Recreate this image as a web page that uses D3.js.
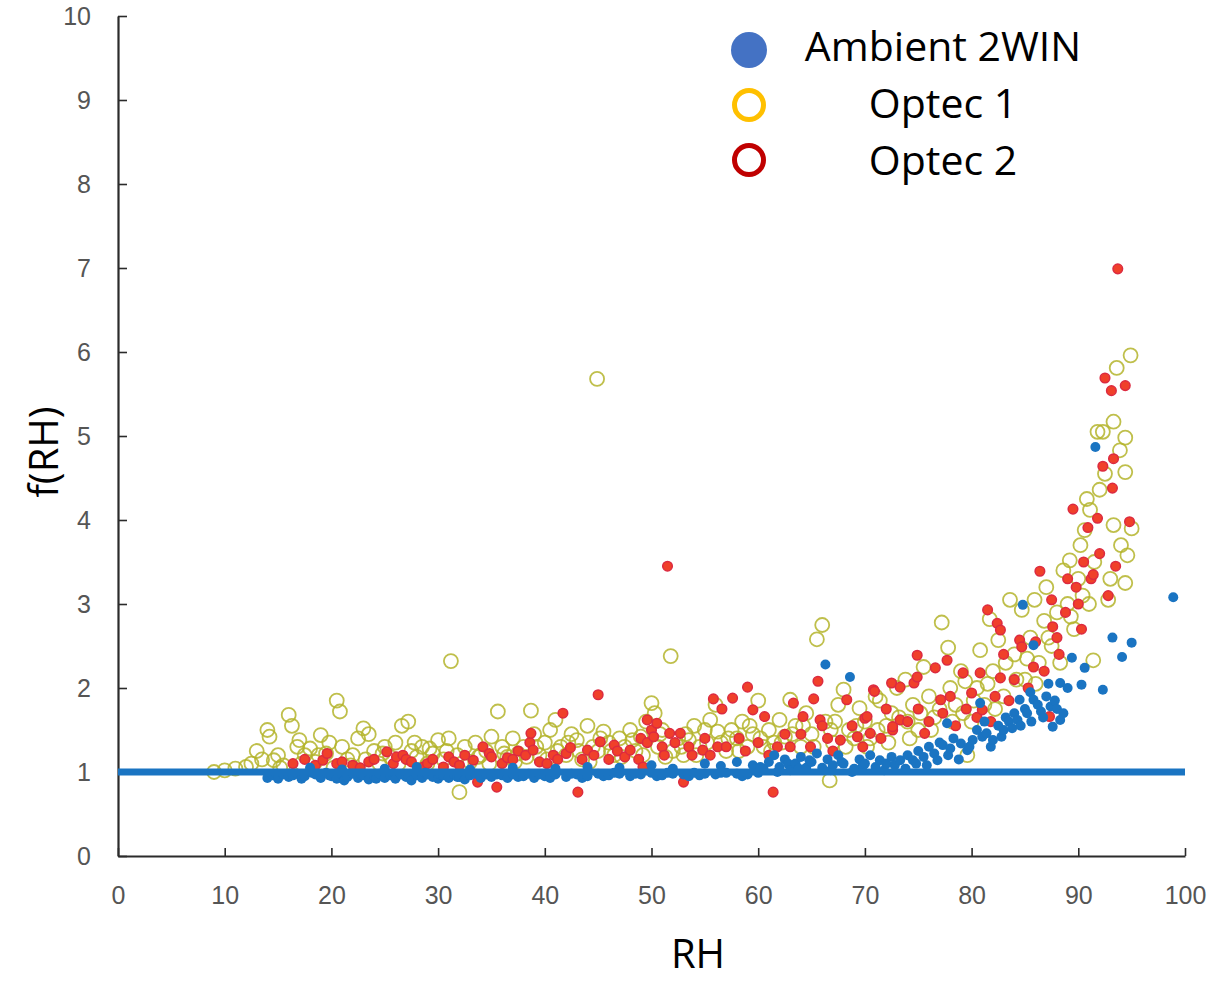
<!DOCTYPE html>
<html>
<head>
<meta charset="utf-8">
<script src="https://cdn.jsdelivr.net/npm/d3@7"></script>
<style>
  body { margin: 0; background: #fff; overflow: hidden; }
  .tick text { fill: #555; font-family: "Liberation Sans", Arial, sans-serif; }
  .title { font-family: "Open Sans", sans-serif; fill: #000; }
</style>
</head>
<body>
<div id="chart"></div>
<script>
// Optec 1 (yellow open circles), [RH, f(RH)]
var optec1 = [
  [9,1.0],[10,1.02],[11,1.04],[12,1.06],[12.5,1.1],[13,1.25],[13.5,1.15],
  [14,1.5],[14.2,1.42],[14.6,1.14],[15,1.2],[15.2,1.05],[15.5,1.08],[16,1.68],[16.3,1.55],[16.8,1.3],[17,1.38],[17.2,1.1],[17.5,1.2],[18,1.28],[18.5,1.12],[18.8,1.2],[19,1.44],[19.5,1.22],[19.8,1.35],[20.2,1.05],
  [20.5,1.85],[20.8,1.72],[21,1.3],[21.5,1.15],[21.8,1.08],[22,1.2],[22.5,1.4],[23,1.52],[23.2,1.15],[23.5,1.45],[24,1.25],[24.5,1.1],[24.8,1.22],[25,1.3],[25.5,1.18],[26,1.35],[26.3,1.1],[26.6,1.55],[27.2,1.6],[27.5,1.25],[27.8,1.35],[28,1.18],[28.5,1.3],[29,1.1],[29.2,1.28],[29.5,1.22],[30,1.38],[30.5,1.15],[30.8,1.25],
  [31,1.4],[31.2,2.32],[31.8,1.2],[32,0.76],[32.2,1.1],[32.5,1.3],[33,1.12],[33.5,1.35],[33.8,1.18],[34,1.2],[34.5,1.25],[34.8,1.1],[35,1.42],[35.6,1.72],[36,1.3],[36.2,1.22],[36.5,1.18],[37,1.4],[37.2,1.12],[37.5,1.22],[38,1.3],[38.3,1.18],[38.7,1.73],[39,1.45],[39.2,1.3],[39.5,1.2],[40,1.35],[40.2,1.15],
  [40.5,1.5],[41,1.62],[41.2,1.25],[41.5,1.3],[42,1.2],[42.2,1.35],[42.5,1.45],[43,1.38],[43.2,1.25],[43.5,1.15],[44,1.55],[44.2,1.12],[44.5,1.3],[44.9,5.68],[45,1.25],[45.2,1.4],[45.5,1.48],[46,1.35],[46.2,1.25],[46.5,1.2],[47,1.4],[47.2,1.18],[47.5,1.3],[48,1.5],[48.2,1.38],[48.5,1.25],[49,1.42],[49.2,1.2],[49.5,1.6],[50,1.82],[50.3,1.7],[50.6,1.3],[50.8,1.45],
  [51,1.5],[51.3,1.18],[51.8,2.38],[52,1.25],[52.5,1.4],[52.8,1.3],[53,1.2],[53.2,1.45],[53.5,1.38],[54,1.55],[54.2,1.2],[54.5,1.3],[55,1.5],[55.2,1.35],[55.5,1.62],[56,1.8],[56.2,1.48],[56.5,1.35],[57,1.25],[57.2,1.4],[57.5,1.5],[58,1.4],[58.2,1.25],[58.5,1.6],[59,1.3],[59.2,1.55],[59.5,1.45],[60,1.85],[60.2,1.4],[60.5,1.3],
  [61,1.5],[61.2,1.25],[61.5,1.35],[62,1.62],[62.2,1.35],[62.5,1.42],[63,1.86],[63.2,1.45],[63.5,1.55],[64,1.3],[64.2,1.55],[64.5,1.7],[65,1.45],[65.2,1.3],[65.5,2.58],[66,2.75],[66.3,1.6],[66.7,0.9],[66.8,1.5],[67,1.35],[67.2,1.6],[67.5,1.8],[68,1.98],[68.2,1.3],[68.5,1.5],[69,1.4],[69.2,1.55],[69.5,1.76],[70,1.6],[70.2,1.3],
  [70.5,1.4],[71,1.9],[71.2,1.5],[71.4,1.85],[72,1.55],[72.2,1.35],[72.5,1.7],[73,2.0],[73.2,1.65],[73.8,2.1],[74,1.6],[74.2,1.4],[74.5,1.8],[75,1.5],[75.2,1.7],[75.5,2.25],[76,1.9],[76.2,1.5],[76.5,1.65],[77,1.75],[77.2,2.78],[77.8,2.48],[78,2.0],[78.2,1.6],[78.5,1.8],[79,2.2],[79.2,1.7],[79.4,2.08],[79.6,1.2],[80,1.6],
  [80.2,1.85],[80.5,2.0],[80.8,2.45],[81.2,1.8],[81.5,2.05],[81.7,2.82],[82,2.2],[82.2,1.75],[82.5,2.57],[83,1.9],[83.2,2.3],[83.6,3.05],[84,2.4],[84.2,2.1],[84.7,2.93],[85,2.1],[85.2,2.35],[85.5,2.6],[85.9,3.05],[86,2.05],[86.3,2.3],[86.8,2.8],[87,3.2],[87.2,2.6],[87.5,2.5],[88,2.9],[88.3,2.3],[88.6,3.4],[89,3.0],[89.2,3.52],[89.3,2.85],[89.6,2.7],[90,3.3],
  [90.2,3.7],[90.4,3.1],[90.6,3.88],[90.8,4.25],[91,3.0],[91.1,4.12],[91.4,2.33],[91.5,3.5],[91.8,5.05],[92,4.36],[92.3,5.05],[92.5,4.55],[92.8,3.05],[93,3.3],[93.3,3.94],[93.3,5.17],[93.6,5.81],[93.9,4.83],[94,3.7],[94.4,4.98],[94.4,4.57],[94.4,3.25],[94.6,3.58],[94.9,5.96],[95,3.9]
];

// Optec 2 (red circles)
var optec2 = [
  [16.4,1.1],[17.5,1.15],[18.5,1.08],[19.2,1.14],[19.6,1.22],[20.5,1.1],[21,1.12],[22,1.08],[22.7,1.05],[23.5,1.12],[24,1.15],[25.2,1.24],[25.8,1.1],[26.1,1.18],[26.7,1.2],[27,1.15],[27.5,1.12],[28.6,1.06],[29,1.1],[29.5,1.15],[30.5,1.06],
  [31,1.18],[31.5,1.12],[32,1.08],[32.5,1.2],[33.3,1.14],[33.7,0.88],[34.2,1.3],[34.8,1.22],[35,1.18],[35.5,0.82],[36,1.1],[36.5,1.17],[37,1.15],[37.5,1.25],[38.2,1.2],[38.6,1.35],[38.7,1.46],[38.9,1.26],[39.5,1.12],[40.2,1.1],[40.8,1.2],[41.2,1.15],[41.7,1.7],[42,1.22],[42.4,1.29],[43.1,0.76],[43.5,1.15],[44,1.26],[44.6,1.2],[45,1.92],[45.2,1.36],[46,1.15],[46.5,1.32],[46.8,1.25],[47.5,1.18],[48,1.26],[48.8,1.15],[49,1.4],[49.2,1.06],[49.6,1.62],[49.6,1.35],[50,1.5],[50.2,1.42],[50.5,1.58],
  [51,1.3],[51.2,1.2],[51.5,3.45],[51.7,1.46],[52.2,1.35],[52.7,1.46],[53,0.88],[53.5,1.3],[53.8,1.2],[54.8,1.26],[55,1.4],[55.5,1.2],[55.8,1.87],[56.2,1.3],[56.6,1.75],[57,1.3],[57.6,1.88],[58.2,1.4],[58.8,1.25],[59,2.01],[59.5,1.74],[60,1.35],[60.6,1.66],[61,1.2],[61.4,0.76],[61.8,1.3],[62.5,1.45],[63,1.3],[63.3,1.82],[64,1.45],[64.2,1.66],[64.9,1.3],[65.2,1.87],[65.6,2.08],[65.8,1.62],[66,1.55],[66.5,1.4],[67,1.25],[67.7,1.38],[68.3,1.86],[68.8,1.55],[69.3,1.42],[69.8,1.3],[70,1.64],
  [70.2,1.66],[70.5,1.46],[70.8,1.98],[70.9,1.96],[71.5,1.4],[72,1.75],[72.5,2.06],[72.6,1.5],[72.6,1.54],[73.3,2.01],[73.3,1.62],[74,1.6],[74.6,2.06],[74.9,2.39],[74.9,2.13],[75,1.75],[75.6,1.46],[76,1.6],[76.6,2.24],[77.1,1.86],[77.3,1.7],[77.7,2.33],[78,1.9],[78.5,1.55],[79.2,2.18],[79.5,1.75],[80,1.94],[80.5,1.65],[80.8,2.18],[81,1.74],[81.5,2.93],[81.8,1.6],[82.2,1.9],[82.4,2.77],[82.7,2.69],[82.7,2.12],[83,2.4],[83.5,1.85],[84,2.1],[84.5,2.57],[84.7,2.49],
  [85.3,2.0],[85.8,2.25],[86,2.55],[86.4,3.39],[86.8,2.2],[87.3,1.66],[87.5,3.05],[87.6,2.73],[88,2.6],[88.2,2.4],[88.8,2.9],[89,3.3],[89.5,4.13],[89.8,3.2],[90,3.0],[90.3,2.7],[90.5,3.5],[90.9,3.91],[91.2,3.3],[91.4,3.35],[91.8,4.02],[92,3.6],[92.3,4.64],[92.5,5.69],[92.8,3.1],[93.1,5.54],[93.2,4.38],[93.3,4.73],[93.5,3.45],[93.7,6.99],[94.4,5.6],[94.8,3.98]
];

// Ambient 2WIN (blue filled dots)
var ambient = [
  [14,0.93],[14.5,0.96],[14.8,0.98],[15,0.92],[15.5,0.97],[16,0.94],[16.4,0.96],[16.8,0.98],[17.2,0.92],[17.5,0.95],[18.2,0.99],[18.5,0.97],[19,0.93],[19.5,0.99],[19.8,0.96],[20,0.95],[20.5,0.92],[21,0.97],[21.2,0.9],[21.5,0.94],[22,0.98],[22.5,0.93],[22.8,0.97],[23,0.96],[23.5,0.91],[24,0.95],[24.2,0.92],[24.5,0.98],[25,0.93],[25.5,0.96],[25.8,0.98],[26,0.92],[26.5,0.97],[27,0.94],[27.2,0.95],[27.5,0.9],[28,0.96],[28.5,0.93],[28.8,0.99],[29,0.97],[29.5,0.94],[30,0.92],[30.2,0.97],[30.5,0.96],[31,0.93],[31.5,0.97],[31.8,0.94],[32,0.94],[32.5,0.91],[33,0.96],[33.5,0.98],[34,0.93],[34.5,0.97],[35,0.94],[35.5,0.97],[36,0.96],[36.5,0.93],[37,0.97],[37.5,0.94],[38,0.95],[38.5,0.98],[39,0.93],[39.5,0.97],[40,0.95],[40.5,0.93],[41,0.97],[42,0.94],[42.5,0.98],[43,0.97],[43.5,0.93],[44,0.95],[45,0.98],[45.5,0.95],[46,0.96],[46.5,0.99],[47,0.98],[48,0.95],[48.5,0.98],[49,0.97],[50,0.99],[50.5,0.95],[51,0.96],[51.5,0.99],[52,0.98],[53,0.97],[53.5,0.95],[54,0.99],[54.5,0.96],[55,0.98],[56,0.97],[56.5,0.99],[57,0.99],[58,0.98],[58.5,0.95],[59,0.97],[60,0.99],
  [18,1.05],[21,1.03],[25,1.04],[28,1.06],[33,1.03],[37,1.05],[41,1.04],[44,1.06],[47,1.05],[50,1.08],[52,1.04],[55,1.1],[56.5,1.07],[58,1.12],[59.5,1.08],
  [60.2,1.06],[60.5,1.04],[61,1.12],[61.5,1.2],[61.8,1.0],[62,1.06],[62.5,1.15],[62.8,1.1],[63,1.02],[63.5,1.1],[63.8,1.04],[64,1.18],[64.5,1.05],[64.8,1.14],[65,1.12],[65.5,1.22],[66,1.05],[66.3,2.28],[66.5,1.15],[66.8,1.02],[67,1.08],[67.5,1.2],[67.8,1.12],[68,1.1],[68.6,2.13],[68.8,1.0],[69,1.04],[69.5,1.15],[69.8,1.07],[70,1.1],[70.5,1.2],[71,1.06],[71.4,1.14],[71.8,1.02],[72,1.1],[72.5,1.18],[72.8,1.08],
  [73.3,1.14],[73.8,1.04],[74,1.2],[74.5,1.14],[74.8,1.1],[75,1.25],[75.5,1.18],[75.8,1.08],[76,1.3],[76.5,1.22],[76.8,1.14],[77,1.35],[77.3,1.32],[77.7,1.58],[77.8,1.2],[78,1.28],[78.3,1.4],[78.8,1.15],[79,1.34],[79.6,1.26],[79.8,1.3],[80.1,1.38],[80.5,1.5],[80.8,1.82],[81,1.42],[81.2,1.6],[81.4,1.46],[81.8,1.3],[82,1.38],[82.5,1.55],[82.8,1.42],[83,1.5],[83.2,1.65],[83.5,1.6],[83.8,1.52],[84,1.7],[84.3,1.62],[84.5,1.86],[84.6,1.55],[84.8,2.99],[85,1.75],[85.2,1.7],[85.5,1.95],[85.6,1.6],[85.8,1.86],[85.8,2.51],[86.2,1.8],[86.5,1.72],[86.7,1.65],[87,1.9],[87.2,2.05],[87.4,1.78],[87.6,1.54],[87.8,1.85],[88,1.75],[88.3,1.62],[88.3,2.06],[88.6,1.7],
  [89,2.0],[89.4,2.36],[90.3,2.04],[90.6,2.24],[91.6,4.87],[92.3,1.98],[93.2,2.6],[94.1,2.37],[95,2.54],[98.9,3.08]
];

var xTicks = [0,10,20,30,40,50,60,70,80,90,100];
var yTicks = [0,1,2,3,4,5,6,7,8,9,10];
var legendNames = ["Ambient 2WIN", "Optec 1", "Optec 2"];

var width = 1217, height = 984;
var svg = d3.select("#chart").append("svg")
    .attr("width", width)
    .attr("height", height)
    .style("display", "block");

var x = d3.scaleLinear().domain([0, 100]).range([118, 1185]);
var y = d3.scaleLinear().domain([0, 10]).range([856, 16]);

// axes, ticks pointing inward
var xAxis = svg.append("g")
    .attr("transform", "translate(0," + y(0) + ")")
    .call(d3.axisBottom(x).tickValues(xTicks).tickSizeInner(-8).tickSizeOuter(0).tickPadding(30));
var yAxis = svg.append("g")
    .attr("transform", "translate(" + x(0) + ",0)")
    .call(d3.axisLeft(y).tickValues(yTicks).tickSizeInner(-9).tickSizeOuter(0).tickPadding(27));

[xAxis, yAxis].forEach(function(a) {
  a.select(".domain").attr("stroke", "#2b2b2b").attr("stroke-width", 2.2);
  a.selectAll(".tick line").attr("stroke", "#2b2b2b").attr("stroke-width", 1.6);
  a.selectAll(".tick text").style("font-size", "25px");
});

// Optec 1
svg.append("g").selectAll("circle")
    .data(optec1)
    .enter().append("circle")
    .attr("cx", d => x(d[0]))
    .attr("cy", d => y(d[1]))
    .attr("r", 7)
    .attr("fill", "none")
    .attr("stroke", "#b4b42c")
    .attr("stroke-opacity", 0.85)
    .attr("stroke-width", 1.8);

// Optec 2
svg.append("g").selectAll("circle")
    .data(optec2)
    .enter().append("circle")
    .attr("cx", d => x(d[0]))
    .attr("cy", d => y(d[1]))
    .attr("r", 4.8)
    .attr("fill", "#f0402a")
    .attr("stroke", "#dc2a40")
    .attr("stroke-width", 1.5);

// Ambient 2WIN
svg.append("g").selectAll("circle")
    .data(ambient)
    .enter().append("circle")
    .attr("cx", d => x(d[0]))
    .attr("cy", d => y(d[1]))
    .attr("r", 5)
    .attr("fill", "#1a74c2");

// f(RH) = 1 line
svg.append("line")
    .attr("x1", x(0)).attr("x2", x(100))
    .attr("y1", y(1)).attr("y2", y(1))
    .attr("stroke", "#1a74c2")
    .attr("stroke-width", 7);

// axis titles
svg.append("text")
    .attr("class", "title")
    .attr("transform", "translate(58,452)rotate(-90)")
    .attr("text-anchor", "middle")
    .style("font-size", "40px")
    .text("f(RH)");
svg.append("text")
    .attr("class", "title")
    .attr("x", 698).attr("y", 968)
    .attr("text-anchor", "middle")
    .style("font-size", "40px")
    .text("RH");

// legend
var legend = svg.append("g");
legend.append("circle").attr("cx", 749).attr("cy", 50).attr("r", 18).attr("fill", "#4472c4");
legend.append("circle").attr("cx", 749).attr("cy", 105).attr("r", 14.5)
    .attr("fill", "none").attr("stroke", "#ffc000").attr("stroke-width", 5);
legend.append("circle").attr("cx", 749).attr("cy", 160).attr("r", 14.5)
    .attr("fill", "none").attr("stroke", "#c00000").attr("stroke-width", 5);
legend.selectAll("text")
    .data(legendNames)
    .enter().append("text")
    .attr("class", "title")
    .attr("x", 943)
    .attr("y", (d, i) => 61 + i * 57)
    .attr("text-anchor", "middle")
    .style("font-size", "41px")
    .text(d => d);
</script>
</body>
</html>
